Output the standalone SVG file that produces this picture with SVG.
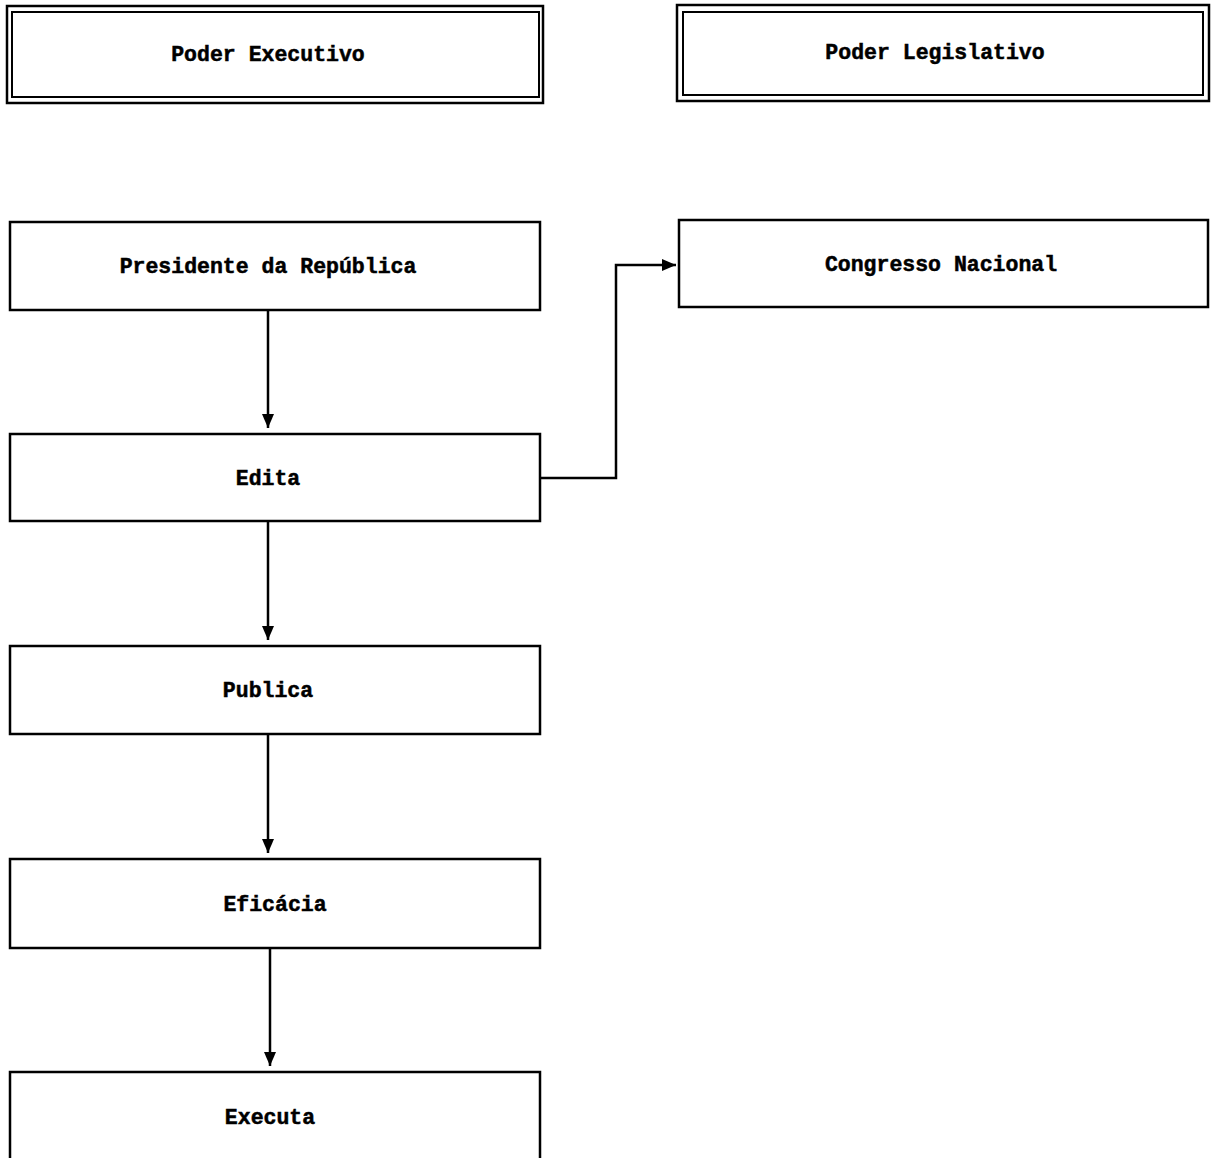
<svg xmlns="http://www.w3.org/2000/svg" width="1211" height="1158" viewBox="0 0 1211 1158">
  <style>
    .box { fill: #ffffff; stroke: #000000; stroke-width: 2.5; }
    .thin { fill: none; stroke: #000000; stroke-width: 2; }
    .lbl { font-family: "Liberation Mono", "DejaVu Sans Mono", monospace; font-weight: bold; font-size: 21.5px; fill: #000000; stroke: #000000; stroke-width: 0.5; text-anchor: middle; dominant-baseline: central; }
    .wire { fill: none; stroke: #000000; stroke-width: 2.5; }
  </style>
  <defs>
    <marker id="arrow" viewBox="0 0 14 12" refX="14" refY="6" markerWidth="5.6" markerHeight="4.8" markerUnits="strokeWidth" orient="auto">
      <path d="M0,0 L14,6 L0,12 z" fill="#000000"/>
    </marker>
  </defs>
  <rect width="1211" height="1158" fill="#ffffff"/>

  <!-- headers with double border -->
  <g id="poder-executivo">
    <rect class="box" x="7" y="6" width="536" height="97"/>
    <rect class="thin" x="12" y="12" width="527" height="85"/>
    <text class="lbl" x="268" y="55">Poder Executivo</text>
  </g>
  <g id="poder-legislativo">
    <rect class="box" x="677" y="5" width="532" height="96"/>
    <rect class="thin" x="683" y="12" width="520" height="83"/>
    <text class="lbl" x="935" y="53">Poder Legislativo</text>
  </g>

  <!-- process nodes -->
  <g id="presidente">
    <rect class="box" x="10" y="222" width="530" height="88"/>
    <text class="lbl" x="268" y="267">Presidente da República</text>
  </g>
  <g id="congresso">
    <rect class="box" x="679" y="220" width="529" height="87"/>
    <text class="lbl" x="941" y="265">Congresso Nacional</text>
  </g>
  <g id="edita">
    <rect class="box" x="10" y="434" width="530" height="87"/>
    <text class="lbl" x="268" y="479">Edita</text>
  </g>
  <g id="publica">
    <rect class="box" x="10" y="646" width="530" height="88"/>
    <text class="lbl" x="268" y="691">Publica</text>
  </g>
  <g id="eficacia">
    <rect class="box" x="10" y="859" width="530" height="89"/>
    <text class="lbl" x="275" y="905">Eficácia</text>
  </g>
  <g id="executa">
    <rect class="box" x="10" y="1072" width="530" height="100"/>
    <text class="lbl" x="270" y="1118">Executa</text>
  </g>

  <!-- connectors -->
  <g id="connectors">
    <path class="wire" d="M268,310 V428" marker-end="url(#arrow)"/>
    <path class="wire" d="M268,521 V640" marker-end="url(#arrow)"/>
    <path class="wire" d="M268,734 V853" marker-end="url(#arrow)"/>
    <path class="wire" d="M270,948 V1066" marker-end="url(#arrow)"/>
    <path class="wire" d="M540,478 H616 V265 H676" marker-end="url(#arrow)"/>
  </g>
</svg>
